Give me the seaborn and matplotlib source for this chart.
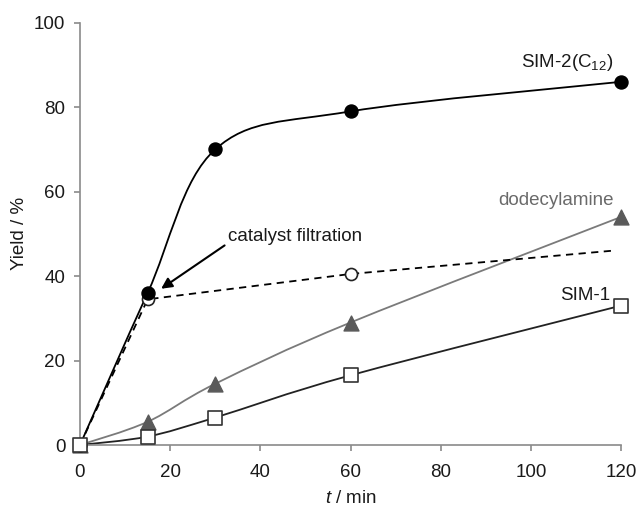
import numpy as np
import pandas as pd
import matplotlib
matplotlib.use("Agg")
import matplotlib.pyplot as plt
from matplotlib.path import Path
from matplotlib.patches import PathPatch
import seaborn as sns

# data
t_min = [0, 15, 30, 60, 120]
sim2_yield = [0, 36, 70, 79, 86]
dodecyl_yield = [0, 5.5, 14.5, 29, 54]
sim1_yield = [0, 2, 6.5, 16.5, 33]

# after catalyst filtration (dashed), last point is the line end only
filt_t = [0, 15, 60, 118]
filt_yield = [0, 34.5, 40.5, 46]
filt_marked = [True, True, True, False]

sns.set_style("ticks")
plt.rcParams["font.family"] = ["Liberation Sans", "DejaVu Sans"]
plt.rcParams["mathtext.fontset"] = "custom"
plt.rcParams["mathtext.rm"] = "Liberation Sans"
plt.rcParams["mathtext.it"] = "Liberation Sans:italic"

fig = plt.figure(figsize=(6.38, 5.11), dpi=100)
ax = fig.add_axes([80 / 638, 66 / 511, 541 / 638, 422.3 / 511])


def smooth_line(ax, xs, ys, **kw):
    # Excel-like smoothed line: cubic bezier between the data points
    pts = np.column_stack([xs, ys]).astype(float)
    n = len(pts)
    verts = [pts[0]]
    codes = [Path.MOVETO]
    for i in range(n - 1):
        p0 = pts[i - 1] if i > 0 else pts[i]
        p1, p2 = pts[i], pts[i + 1]
        p3 = pts[i + 2] if i + 2 < n else pts[i + 1]
        verts += [p1 + (p2 - p0) / 6, p2 - (p3 - p1) / 6, p2]
        codes += [Path.CURVE4] * 3
    ax.add_patch(PathPatch(Path(verts, codes), facecolor="none", **kw))


smooth_line(ax, t_min, sim2_yield, edgecolor="black", lw=1.3, zorder=2)
smooth_line(ax, t_min, dodecyl_yield, edgecolor="#7a7a7a", lw=1.3, zorder=2)
smooth_line(ax, t_min, sim1_yield, edgecolor="#222222", lw=1.3, zorder=2)

filt = pd.DataFrame({"t": filt_t, "y": filt_yield, "m": filt_marked})
sns.lineplot(data=filt, x="t", y="y", ax=ax, color="black", lw=1.3,
             linestyle=(0, (4, 3)), zorder=2)

df = pd.DataFrame({"t": t_min, "sim2": sim2_yield, "dod": dodecyl_yield, "sim1": sim1_yield})
fm = filt[filt["m"]]
ax.scatter(fm["t"], fm["y"], s=75, marker="o", facecolor="white",
           edgecolor="#222222", linewidth=1.2, zorder=3, clip_on=False)
ax.scatter(df["t"], df["sim2"], s=88, marker="o", color="black", zorder=4, clip_on=False)
ax.scatter(df["t"], df["dod"], s=115, marker="^", color="#5a5a5a", zorder=3, clip_on=False)
ax.scatter(df["t"], df["sim1"], s=95, marker="s", facecolor="white",
           edgecolor="#333333", linewidth=1.2, zorder=4, clip_on=False)

ax.set_xlim(0, 120)
ax.set_ylim(0, 100)
ax.set_xticks(range(0, 121, 20))
ax.set_yticks(range(0, 101, 20))
for side in ["top", "right"]:
    ax.spines[side].set_visible(False)
for side in ["left", "bottom"]:
    ax.spines[side].set_color("#8a8a8a")
    ax.spines[side].set_linewidth(1.2)
ax.tick_params(axis="both", colors="#8a8a8a", labelcolor="#1a1a1a",
               labelsize=13.5, length=4.5, width=1.2)
ax.tick_params(axis="x", pad=9)
ax.tick_params(axis="y", pad=6)

ax.set_xlabel("$t$ / min", fontsize=13.5, color="#1a1a1a", labelpad=7)
ax.set_ylabel("Yield / %", fontsize=13.5, color="#1a1a1a", labelpad=4)

ax.text(108, 90.5, "SIM-2(C$_{12}$)", fontsize=13.5, color="#1a1a1a",
        ha="center", va="center")
ax.text(105.5, 58, "dodecylamine", fontsize=13.5, color="#6a6a6a",
        ha="center", va="center")
ax.text(112, 35.5, "SIM-1", fontsize=13.5, color="#1a1a1a",
        ha="center", va="center")
ax.annotate("catalyst filtration", xy=(18.0, 37.0), xytext=(32.8, 49.4),
            fontsize=13.5, color="#1a1a1a", ha="left", va="center",
            arrowprops=dict(arrowstyle="-|>", color="black", lw=1.5,
                            mutation_scale=16, shrinkA=0, shrinkB=0,
                            relpos=(0, 0.1)))

fig.savefig("out.png", dpi=100)
